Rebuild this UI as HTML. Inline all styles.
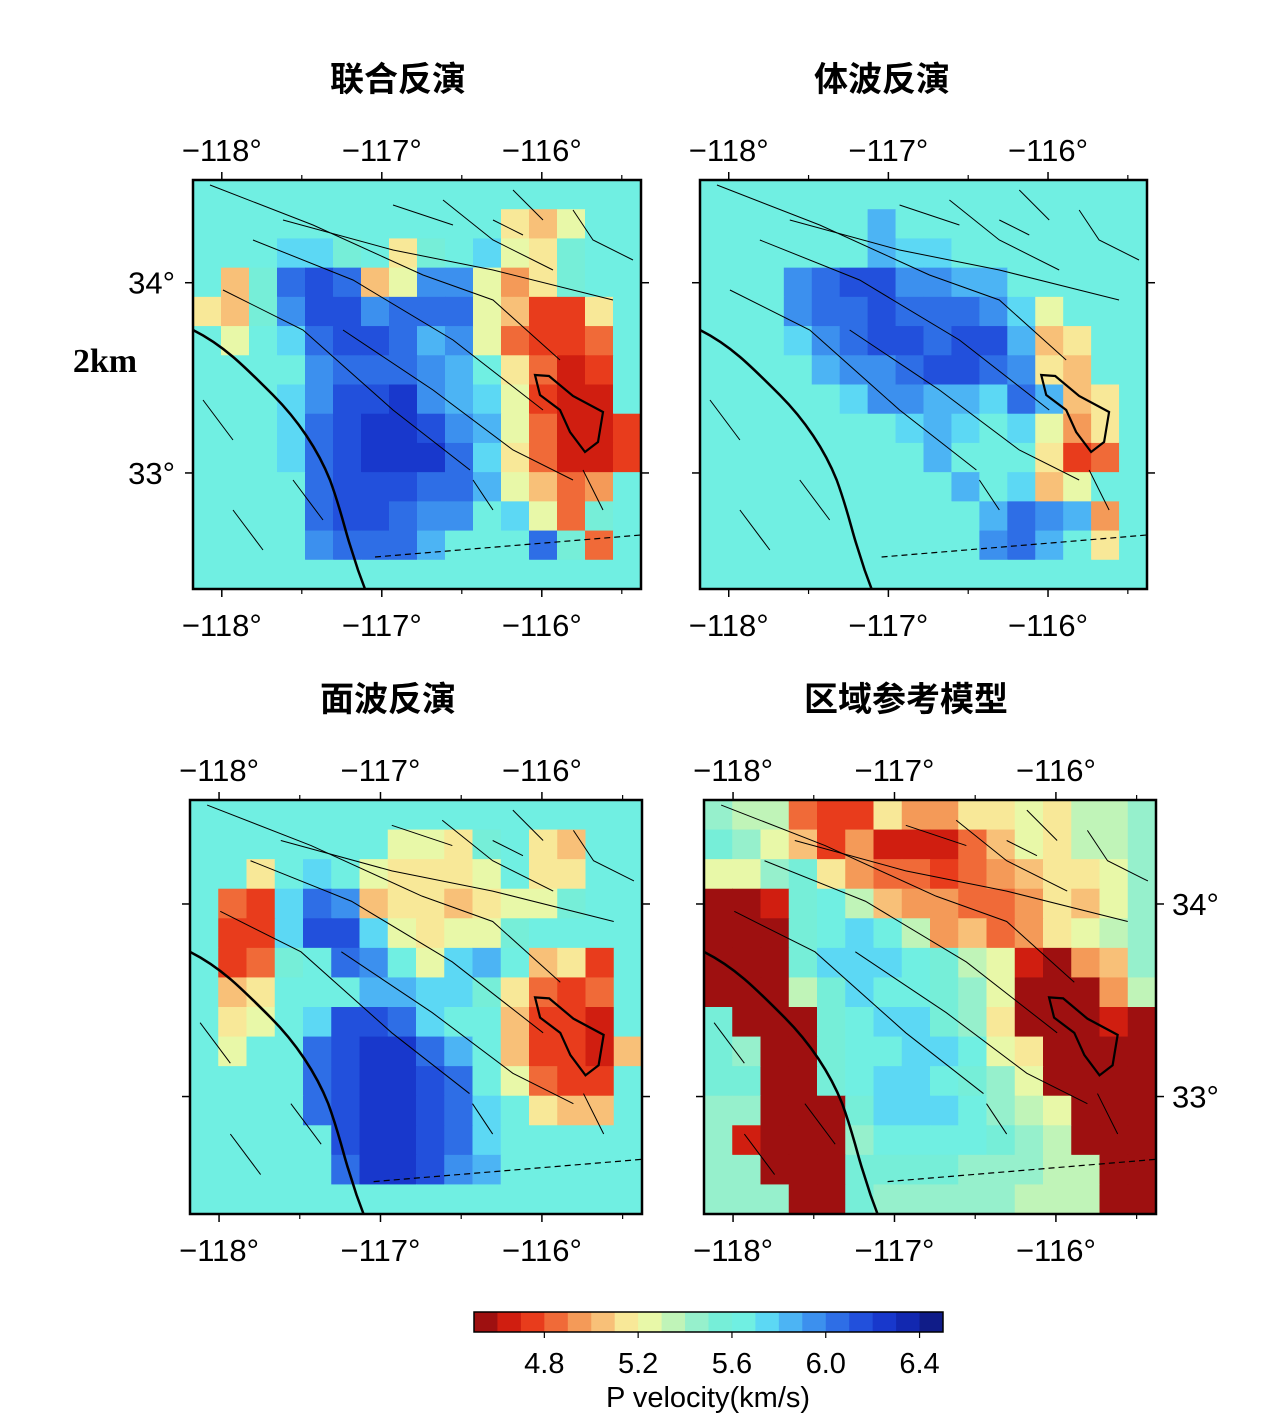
<!DOCTYPE html>
<html><head><meta charset="utf-8">
<style>
body{margin:0;background:#fff;width:1276px;height:1422px;overflow:hidden;font-family:"Liberation Sans","Noto Sans CJK SC",sans-serif}
</style></head>
<body>
<svg id="fig" width="1276" height="1422" viewBox="0 0 1276 1422" xmlns="http://www.w3.org/2000/svg" font-family="Liberation Sans, Noto Sans CJK SC, sans-serif"></svg>
<script>
// colour levels: 'a' = 4.5 km/s ... 't' = 6.4 km/s, step 0.1
const levelChars = "abcdefghijklmnopqrst";
const palette = ["#9e1010","#d01e10","#e83c1c","#f06a38","#f49a58","#f8c078","#f8e898","#e8f8a8","#c0f4b8","#96f0cc","#76eed8","#70efe2","#5cd8f4","#4cb4f4","#3c90ee","#2e6ee6","#2250dc","#1838cc","#1228b0","#101c88"];
const cbTicks = [4.8,5.2,5.6,6.0,6.4];
const vMin = 4.5, vStep = 0.1;
const lonTicks = [-118,-117,-116];
const latTicks = [34,33];
const lonMin=-118.18, lonMax=-115.38, latMax=34.54, latMin=32.39;

const gridJoint = [
"llllllllllllllll","lllllllllllgfhll","lllmmklgklmhgkll","lfkpqpfhoohegkll","gfkoqqoppphfccgl",
"lhlmpqqpnohdccdl","lllloppponlgdbcl","lllmoqqronmhcbbl","lllmpqrrqonhdbbc","lllmpqrrrpmgdbbc",
"llllpqqqppnhfdel","llllpqqpoolmhdkl","llllopppnlllpkdl","llllllllllllllll"];
const gridBody = [
"llllllllllllllll","llllllnlllllllll","llllllnmmlllllll","lllopqqoonnlllll","llloppqpppomhlll",
"lllmopqqpqqnfgll","llllnoopqqpogfll","lllllmoonnmpnfgl","lllllllmnmlmhegl","llllllllnlllgcdl",
"lllllllllnlmfhll","llllllllllnponel","llllllllllopnlgl","llllllllllllllll"];
const gridSurface = [
"llllllllllllllll","lllllllhhgklgfll","llglmlhggghlggll","ldcmpofggfghhkll","lccmqqmhghhkllll",
"lcdklpolhmnlfgcl","lfglllnnmmkgdcdl","lghlmqqpmllfccbl","lhllpqrrpnlfccbf","llllpqrrqplhdccl",
"llllpqrrqpmlgffl","lllllqrrqpmlllll","lllllprrqonlllll","llllllllllllllll"];
const gridRef = [
"jiidccgeegghgiij","kjhfcebbbdfhgiij","hhjkgeddcdefgghj","aabklifeeddegfhj","aaaklmliefdeghij",
"aaakmmmlkihbaefj","aaaikmllkjhaaaei","kaaaklmmkjgaaaba","kjaakllmmlhgaaaa","kkaaklmmlkjhaaaa",
"jjaaakmmmljihaaa","jbaaajllllkjiaaa","jjaaakkkkjjjiiaa","jjjaakjjjjjiiiaa"];

const panels = [
 {name:"joint-inversion",title:"联合反演",tx:398,ty:78,x:193,y:180,w:448,h:409,grid:gridJoint,latSide:"left"},
 {name:"body-wave-inversion",title:"体波反演",tx:882,ty:78,x:700,y:180,w:447,h:409,grid:gridBody,latSide:null},
 {name:"surface-wave-inversion",title:"面波反演",tx:388,ty:698,x:190,y:800,w:452,h:414,grid:gridSurface,latSide:null},
 {name:"regional-reference-model",title:"区域参考模型",tx:906,ty:698,x:704,y:800,w:452,h:414,grid:gridRef,latSide:"right"}
];
const NS="http://www.w3.org/2000/svg";
const svg=document.getElementById('fig');
function mk(tag,attrs,parent){const e=document.createElementNS(NS,tag);for(const k in attrs)e.setAttribute(k,attrs[k]);(parent||svg).appendChild(e);return e;}
function colorOf(ch){return palette[levelChars.indexOf(ch)];}

panels.forEach(p=>{
  const g=mk('g',{});
  
  
  const xs=lon=>p.x+(lon-lonMin)/(lonMax-lonMin)*p.w;
  const ys=lat=>p.y+(latMax-lat)/(latMax-latMin)*p.h;
  const t=mk('text',{x:p.tx,y:p.ty+13,'text-anchor':'middle','font-size':34,'font-weight':'bold'},g);
  t.textContent=p.title;
  
  
  const rows=p.grid.length, cols=p.grid[0].length;
  const cw=p.w/cols, ch=p.h/rows;
  p.grid.forEach((row,r)=>{for(let c=0;c<cols;c++){
    const cell=mk('rect',{x:p.x+c*cw,y:p.y+r*ch,width:cw+0.6,height:ch+0.6,fill:colorOf(row[c])},g);
    
    
  }});
  const sx=p.w/448, sy=p.h/409;
  const dg=mk('g',{transform:`translate(${p.x},${p.y}) scale(${sx},${sy})`,fill:'none',stroke:'#000'},g);
  
  
  mk('path',{d:"M0,150 C30,165 50,185 80,215 C105,240 125,270 137,300 C148,330 152,350 157,365 L165,390 L172,409",'stroke-width':2.5},dg);
  mk('path',{d:"M342,195 L356,196 L380,216 L410,232 L405,262 L392,272 L377,252 L367,230 L347,215 Z",'stroke-width':2.2},dg);
  mk('path',{d:"M182,377 L448,355",'stroke-width':1.2,'stroke-dasharray':'6,4'},dg);
  const faults=["M17,5 L120,45 L230,95 L300,120 L367,180","M30,110 L110,150 L200,230 L277,290","M60,60 L160,100 L260,160 L350,230","M90,40 L200,70 L300,90 L420,120","M150,150 L240,210 L320,270 L380,300","M250,20 L300,60 L360,90","M320,10 L350,40","M380,30 L400,60 L440,80","M10,220 L40,260","M100,300 L130,340","M40,330 L70,370","M280,300 L300,330","M390,290 L410,330","M200,25 L260,45","M300,40 L330,55"];
  faults.forEach(d=>mk('path',{d,'stroke-width':1},dg));
  const fr=mk('rect',{x:p.x,y:p.y,width:p.w,height:p.h,fill:'none',stroke:'#000','stroke-width':2.5},g);
  
  
  lonTicks.forEach(l=>{
    const x=xs(l);
    mk('line',{x1:x,y1:p.y,x2:x,y2:p.y-8,stroke:'#000','stroke-width':1.5},g);
    mk('line',{x1:x,y1:p.y+p.h,x2:x,y2:p.y+p.h+8,stroke:'#000','stroke-width':1.5},g);
    [p.y-19,p.y+p.h+47].forEach(yy=>{
      const tl=mk('text',{x:x,y:yy,'text-anchor':'middle','font-size':31},g);
      tl.textContent='\u2212'+Math.abs(l)+'°';
      
      
    });
  });
  [-117.5,-116.5,-115.5].forEach(l=>{const x=xs(l);
    mk('line',{x1:x,y1:p.y,x2:x,y2:p.y-5,stroke:'#000','stroke-width':1.2},g);
    mk('line',{x1:x,y1:p.y+p.h,x2:x,y2:p.y+p.h+5,stroke:'#000','stroke-width':1.2},g);});
  latTicks.forEach(l=>{
    const y=ys(l);
    mk('line',{x1:p.x,y1:y,x2:p.x-8,y2:y,stroke:'#000','stroke-width':1.5},g);
    mk('line',{x1:p.x+p.w,y1:y,x2:p.x+p.w+8,y2:y,stroke:'#000','stroke-width':1.5},g);
    if(p.latSide){
      const left=p.latSide==='left';
      const tl=mk('text',{x:left?p.x-18:p.x+p.w+16,y:y+11,'text-anchor':left?'end':'start','font-size':31},g);
      tl.textContent=l+'°';
      
      
    }
  });
});
const dep=mk('text',{x:105,y:372,'text-anchor':'middle','font-size':34,'font-weight':'bold','font-family':'Liberation Serif, serif'});
dep.textContent='2km';



const cb=mk('g',{});


const cbX=474,cbW=469,cbY=1312,cbH=20;
const cbx=v=>cbX+(v-vMin)/(palette.length*vStep)*cbW;
palette.forEach((c,i)=>{
  const r=mk('rect',{x:cbx(vMin+i*vStep),y:cbY,width:cbW/palette.length+0.5,height:cbH,fill:c},cb);
  
  
});
mk('rect',{x:cbX,y:cbY,width:cbW,height:cbH,fill:'none',stroke:'#000','stroke-width':1.5},cb);
cbTicks.forEach(v=>{
  const x=cbx(v);
  mk('line',{x1:x,y1:cbY+cbH,x2:x,y2:cbY+cbH+6,stroke:'#000','stroke-width':1.2},cb);
  const t=mk('text',{x:x,y:1373,'text-anchor':'middle','font-size':29},cb);
  t.textContent=v.toFixed(1);
  
  
});
const ct=mk('text',{x:708,y:1407,'text-anchor':'middle','font-size':29},cb);
ct.textContent='P velocity(km/s)';


</script>
</body></html>
